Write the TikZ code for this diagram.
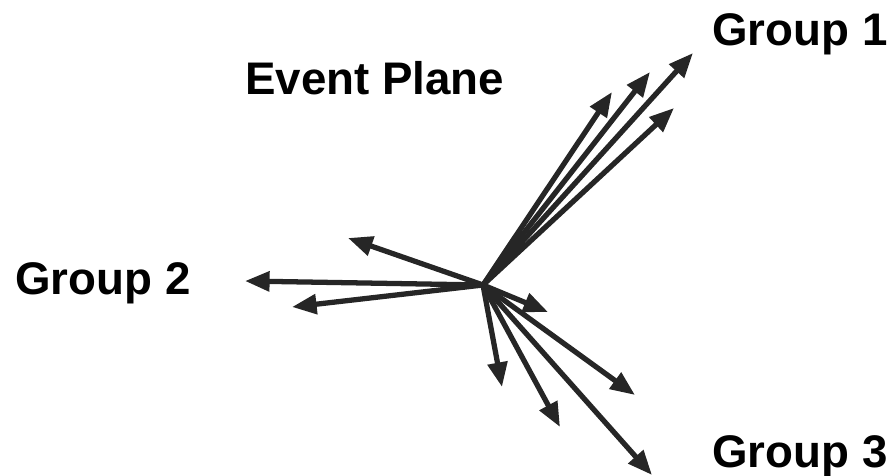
\documentclass[tikz,border=0pt]{standalone}
\usepackage{fontspec}
\setmainfont{Liberation Sans}
\usetikzlibrary{arrows.meta}

\begin{document}
\begin{tikzpicture}[
  x=0.02cm,y=-0.02cm,
  grouplabel/.style={anchor=base west,inner sep=0pt,font=\fontsize{26}{30}\selectfont\bfseries},
  track/.style={-{Triangle[length=14pt,width=11pt]},line width=3pt,draw=black!85}
]
  \useasboundingbox (0,0) rectangle (894,476);

  \node[grouplabel] (G1) at (712,46) {Group 1};
  \node[grouplabel] (EP) at (245,95) {Event Plane};
  \node[grouplabel] (G2) at (15,295) {Group 2};
  \node[grouplabel] (G3) at (712,468) {Group 3};

  \coordinate (O) at (483,285);

  % group 1
  \coordinate (g1a) at (612,92);
  \coordinate (g1b) at (650,72);
  \coordinate (g1c) at (693,53);
  \coordinate (g1d) at (674,108);
  % group 2
  \coordinate (g2a) at (348,238);
  \coordinate (g2b) at (245,281);
  \coordinate (g2c) at (292,307);
  % group 3
  \coordinate (g3a) at (548,312);
  \coordinate (g3b) at (502,387);
  \coordinate (g3c) at (560,427);
  \coordinate (g3d) at (635,395);
  \coordinate (g3e) at (652,475);

  \foreach \t in {g1a,g1b,g1c,g1d,g2a,g2b,g2c,g3a,g3b,g3c,g3d,g3e}
    \draw[track] (O) -- (\t);
\end{tikzpicture}
\end{document}
